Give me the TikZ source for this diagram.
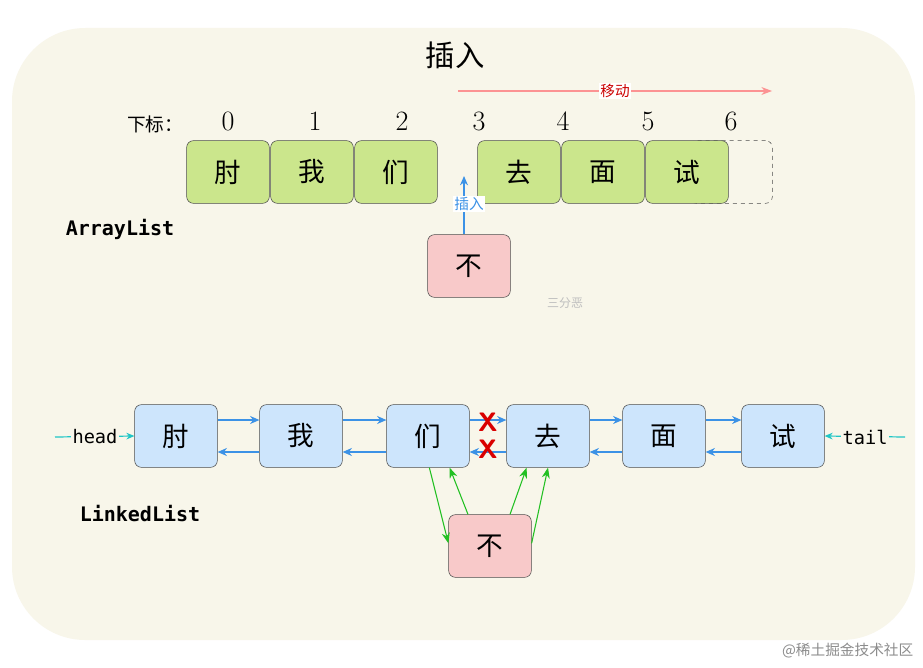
\documentclass[tikz,border=0pt]{standalone}
\usepackage{fontspec}
\newfontfamily\cjk{Noto Sans CJK SC}
\newfontfamily\mono{DejaVu Sans Mono}
\usetikzlibrary{arrows.meta}
\definecolor{bg}{HTML}{F8F6EA}
\definecolor{gr}{HTML}{CBE68C}
\definecolor{bl}{HTML}{CDE5FC}
\definecolor{pk}{HTML}{F8C9C9}
\definecolor{ab}{HTML}{3C92E6}
\definecolor{gn}{HTML}{22C022}
\definecolor{cy}{HTML}{1FC6C6}
\begin{document}
\begin{tikzpicture}[x=0.75pt,y=-0.75pt,
 box/.style={draw=black!70,rounded corners=5pt,minimum width=62pt,minimum height=47pt,inner sep=0pt,font=\cjk\fontsize{20}{20}\selectfont},
 g/.style={box,fill=gr}, b/.style={box,fill=bl}, p/.style={box,fill=pk},
 idx/.style={font=\fontsize{21}{21}\selectfont},
 ba/.style={ab,line width=0.9pt,-{Stealth[length=7pt,width=6pt]}},
 ga/.style={gn,line width=0.8pt,-{Stealth[length=8pt,width=6pt]}},
 lbl/.style={font=\mono\bfseries\fontsize{15}{15}\selectfont}]
\useasboundingbox (0,0) rectangle (923,667);
\fill[white] (0,0) rectangle (923,667);
\fill[bg,rounded corners=55pt] (12,28) rectangle (915,640);
\node[font=\cjk\fontsize{22}{22}\selectfont] (t) at (455,55) {插入};
% array
\node[draw=black!70,dashed,rounded corners=5pt,minimum width=62pt,minimum height=47pt] (d) at (731,172) {};
\node[g] (a0) at (228,172) {肘};
\node[g] (a1) at (312,172) {我};
\node[g] (a2) at (396,172) {们};
\node[g] (a3) at (519,172) {去};
\node[g] (a4) at (603,172) {面};
\node[g] (a5) at (687,172) {试};
\node[font=\cjk\fontsize{14}{14}\selectfont] (xb) at (155,124) {下标：};
\foreach \i/\x in {0/228,1/315,2/402,3/479,4/563,5/648,6/731}
  \node[idx] (n\i) at (\x,121) {\i};
\coordinate (m0) at (458,91); \coordinate (m1) at (772,91);
\draw[pk!50!red!70,line width=0.8pt,-{Stealth[length=8pt,width=6pt]}] (m0) -- (m1);
\node[fill=white,inner sep=1pt,text=red!80!black,font=\cjk\fontsize{11}{11}\selectfont] (mv) at (615,91) {移动};
\node[p] (pa) at (469,266) {不};
\coordinate (ip) at (464,176);
\draw[ba] (pa.north -| ip) -- (ip);
\node[fill=white,inner sep=1pt,text=ab,font=\cjk\fontsize{11}{11}\selectfont] (il) at (469,204) {插入};
\node[lbl] (al) at (120,229) {ArrayList};
\node[text=black!25,font=\cjk\fontsize{9}{9}\selectfont] (wm) at (565,303) {三分恶};
% linked
\node[b] (l0) at (176,436) {肘};
\node[b] (l1) at (301,436) {我};
\node[b] (l2) at (428,436) {们};
\node[b] (l3) at (548,436) {去};
\node[b] (l4) at (664,436) {面};
\node[b] (l5) at (783,436) {试};
\foreach \a/\b in {l0/l1,l1/l2,l2/l3,l3/l4,l4/l5}{
  \draw[ba] ([yshift=12pt]\a.east) -- ([yshift=12pt]\b.west);
  \draw[ba] ([yshift=-12pt]\b.west) -- ([yshift=-12pt]\a.east);}
\foreach \y in {422,449}
  \node[text=red!85!black,font=\sffamily\bfseries\fontsize{20}{20}\selectfont,inner sep=0pt] at (488,\y) {X};
\coordinate (h0) at (55,437); \coordinate (t0) at (905,437);
\draw[cy,line width=0.9pt,-{Stealth[length=6pt,width=5pt]}] (h0) -- (l0.west);
\draw[cy,line width=0.9pt,-{Stealth[length=6pt,width=5pt]}] (t0) -- (l5.east);
\node[fill=bg,inner sep=1pt,font=\mono\fontsize{14}{14}\selectfont] (hd) at (95,437) {head};
\node[fill=bg,inner sep=1pt,font=\mono\fontsize{14}{14}\selectfont] (tl) at (865,437) {tail};
\node[lbl] (ll) at (140,514) {LinkedList};
\node[p] (pl) at (490,546) {不};
\draw[ga] ([xshift=1pt]l2.south) -- ([yshift=2pt]pl.west);
\draw[ga] ([xshift=-16.5pt]pl.north) -- ([xshift=-15pt]l2.south east);
\draw[ga] ([xshift=15pt]pl.north) -- ([xshift=-16pt]l3.south);
\draw[ga] ([yshift=2pt]pl.east) -- (l3.south);
\node[text=black!45,font=\cjk\fontsize{11}{11}\selectfont,anchor=east] (wj) at (918,651) {@稀土掘金技术社区};
\end{tikzpicture}
\end{document}
